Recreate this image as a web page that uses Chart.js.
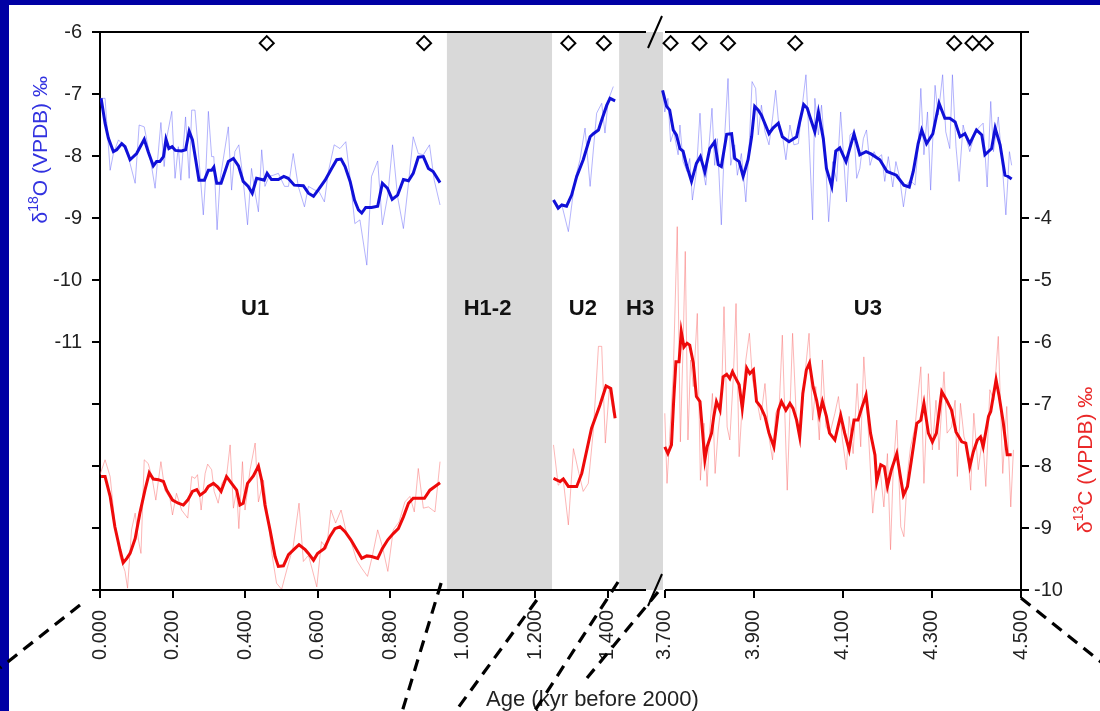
<!DOCTYPE html>
<html>
<head>
<meta charset="utf-8">
<title>Isotope record</title>
<script src="https://cdn.jsdelivr.net/npm/chart.js@4.4.1/dist/chart.umd.min.js"></script>
<style>
html, body { margin: 0; padding: 0; background: #fff; }
#wrap { width: 1100px; height: 711px; }
</style>
</head>
<body>
<div id="wrap"><canvas id="chart" width="1100" height="711"></canvas></div>
<script>

// ---- data (age in kyr before 2000, isotope values in permil VPDB) ----

const ageTicksLeft = [0, 0.2, 0.4, 0.6, 0.8, 1.0, 1.2, 1.4];
const ageTicksRight = [3.7, 3.9, 4.1, 4.3, 4.5];
const o18Ticks = [-15, -14, -13, -12, -11, -10, -9, -8, -7, -6];
const c13Ticks = [-10, -9, -8, -7, -6, -5, -4, -3, -2, -1];

// dated samples (diamonds along the top)
const datesLeft = [0.460, 0.894, 1.292, 1.390];
const datesRight = [3.713, 3.778, 3.842, 3.993, 4.350, 4.391, 4.421];

// hiatus bands and unit labels
const hiatus = [
  { from: 0.957, to: 1.247 },
  { from: 1.432, to: 3.696 }
];
const units = ['U1', 'H1-2', 'U2', 'H3', 'U3'];
const unitAges = [0.428, 1.069, 1.332, 1.490, 4.156];

// δ18O raw and running mean
const o18RawU1 = [[0.000,-7.07],[0.014,-7.07],[0.028,-8.23],[0.037,-7.96],[0.051,-7.74],[0.064,-7.82],[0.078,-8.01],[0.097,-8.44],[0.108,-7.50],[0.122,-7.53],[0.138,-8.01],[0.152,-8.52],[0.168,-7.46],[0.177,-8.17],[0.184,-7.71],[0.198,-7.28],[0.207,-8.36],[0.216,-7.85],[0.223,-8.39],[0.236,-7.37],[0.246,-8.36],[0.253,-7.26],[0.262,-7.26],[0.271,-7.90],[0.285,-8.95],[0.291,-8.39],[0.299,-7.28],[0.308,-8.01],[0.314,-8.01],[0.323,-9.19],[0.331,-8.39],[0.354,-7.53],[0.363,-8.55],[0.372,-7.93],[0.383,-7.82],[0.395,-8.39],[0.407,-9.11],[0.418,-8.20],[0.428,-8.60],[0.437,-8.90],[0.446,-7.90],[0.455,-8.49],[0.466,-8.33],[0.478,-8.31],[0.492,-8.28],[0.509,-8.49],[0.520,-8.49],[0.533,-7.96],[0.547,-8.49],[0.564,-8.82],[0.575,-8.49],[0.593,-8.55],[0.604,-8.57],[0.619,-8.74],[0.630,-8.25],[0.646,-7.82],[0.662,-7.88],[0.678,-7.77],[0.690,-8.36],[0.703,-9.09],[0.717,-9.03],[0.736,-9.76],[0.749,-8.33],[0.766,-8.08],[0.779,-9.11],[0.794,-8.63],[0.807,-7.82],[0.821,-8.66],[0.837,-9.17],[0.851,-8.44],[0.864,-7.69],[0.878,-7.96],[0.892,-7.98],[0.909,-7.82],[0.922,-8.39],[0.938,-8.79]];
const o18MeanU1 = [[0.003,-7.07],[0.014,-7.47],[0.023,-7.71],[0.037,-7.93],[0.046,-7.90],[0.060,-7.80],[0.069,-7.85],[0.083,-8.06],[0.101,-7.96],[0.122,-7.73],[0.133,-7.93],[0.147,-8.16],[0.156,-8.09],[0.165,-8.09],[0.175,-8.01],[0.182,-7.73],[0.190,-7.88],[0.199,-7.85],[0.208,-7.91],[0.225,-7.92],[0.236,-7.90],[0.246,-7.60],[0.255,-7.74],[0.264,-8.06],[0.273,-8.39],[0.288,-8.39],[0.299,-8.23],[0.308,-8.23],[0.314,-8.18],[0.322,-8.44],[0.334,-8.44],[0.354,-8.09],[0.368,-8.04],[0.382,-8.16],[0.395,-8.41],[0.409,-8.49],[0.420,-8.60],[0.432,-8.36],[0.446,-8.38],[0.453,-8.39],[0.461,-8.28],[0.473,-8.38],[0.492,-8.38],[0.507,-8.33],[0.519,-8.36],[0.536,-8.47],[0.561,-8.48],[0.575,-8.60],[0.589,-8.65],[0.603,-8.54],[0.621,-8.39],[0.639,-8.20],[0.653,-8.06],[0.665,-8.05],[0.676,-8.17],[0.690,-8.41],[0.702,-8.71],[0.713,-8.87],[0.722,-8.92],[0.733,-8.83],[0.749,-8.83],[0.766,-8.81],[0.779,-8.44],[0.793,-8.52],[0.806,-8.70],[0.821,-8.63],[0.837,-8.38],[0.851,-8.40],[0.864,-8.28],[0.878,-8.02],[0.892,-8.01],[0.906,-8.20],[0.919,-8.25],[0.938,-8.43]];
const o18RawU2 = [[1.251,-8.71],[1.260,-8.84],[1.274,-8.79],[1.292,-9.22],[1.310,-8.39],[1.324,-8.06],[1.338,-7.55],[1.352,-8.49],[1.370,-7.31],[1.384,-7.15],[1.393,-7.63],[1.402,-7.10],[1.416,-6.88]];
const o18MeanU2 = [[1.251,-8.71],[1.264,-8.84],[1.274,-8.79],[1.287,-8.81],[1.301,-8.63],[1.315,-8.33],[1.333,-8.06],[1.352,-7.69],[1.361,-7.64],[1.375,-7.58],[1.384,-7.42],[1.398,-7.18],[1.407,-7.07],[1.421,-7.11]];
const o18RawU3 = [[3.695,-6.94],[3.700,-7.29],[3.707,-7.07],[3.713,-7.77],[3.720,-7.61],[3.730,-7.98],[3.734,-7.50],[3.741,-8.09],[3.750,-8.25],[3.756,-8.04],[3.762,-8.71],[3.771,-8.25],[3.779,-7.31],[3.786,-8.25],[3.792,-8.47],[3.800,-7.77],[3.806,-7.23],[3.812,-8.15],[3.818,-7.72],[3.827,-9.11],[3.835,-7.61],[3.842,-6.75],[3.848,-8.15],[3.857,-7.82],[3.863,-8.31],[3.872,-7.96],[3.882,-8.74],[3.890,-7.77],[3.896,-6.80],[3.904,-6.91],[3.910,-7.66],[3.917,-7.18],[3.925,-7.61],[3.934,-7.82],[3.942,-7.39],[3.949,-6.94],[3.957,-7.58],[3.964,-7.66],[3.972,-8.06],[3.981,-7.50],[3.990,-7.82],[4.000,-7.80],[4.007,-7.29],[4.017,-6.69],[4.024,-7.72],[4.032,-9.03],[4.037,-7.07],[4.045,-7.66],[4.052,-7.18],[4.060,-7.93],[4.068,-9.06],[4.077,-8.09],[4.086,-8.41],[4.095,-7.29],[4.102,-8.06],[4.108,-8.74],[4.116,-7.66],[4.125,-7.61],[4.131,-8.36],[4.138,-8.20],[4.146,-7.72],[4.153,-7.58],[4.161,-8.15],[4.170,-7.93],[4.177,-8.04],[4.187,-7.98],[4.194,-8.41],[4.202,-8.01],[4.212,-8.50],[4.219,-8.09],[4.227,-8.33],[4.236,-8.82],[4.243,-8.47],[4.251,-8.39],[4.262,-8.47],[4.269,-7.85],[4.275,-6.91],[4.282,-7.98],[4.290,-7.29],[4.297,-8.55],[4.307,-6.86],[4.314,-7.34],[4.324,-6.69],[4.331,-7.61],[4.340,-7.88],[4.346,-6.69],[4.354,-7.85],[4.361,-8.41],[4.370,-7.50],[4.378,-7.74],[4.385,-7.93],[4.394,-7.69],[4.404,-7.55],[4.415,-7.47],[4.424,-8.50],[4.432,-7.12],[4.438,-7.93],[4.449,-7.37],[4.457,-8.06],[4.466,-8.95],[4.474,-7.93],[4.479,-8.15]];
const o18MeanU3 = [[3.695,-6.94],[3.704,-7.20],[3.711,-7.26],[3.719,-7.58],[3.726,-7.66],[3.734,-7.88],[3.741,-7.92],[3.749,-8.15],[3.760,-8.41],[3.771,-8.12],[3.780,-8.01],[3.790,-8.26],[3.801,-7.88],[3.812,-7.77],[3.820,-8.14],[3.827,-8.17],[3.839,-7.65],[3.850,-7.64],[3.857,-8.04],[3.867,-8.09],[3.876,-8.33],[3.887,-8.06],[3.895,-7.69],[3.902,-7.20],[3.910,-7.26],[3.917,-7.34],[3.934,-7.64],[3.943,-7.55],[3.955,-7.47],[3.964,-7.69],[3.979,-7.77],[3.996,-7.69],[4.003,-7.45],[4.012,-7.17],[4.020,-7.23],[4.027,-7.39],[4.037,-7.61],[4.045,-7.29],[4.056,-7.72],[4.063,-8.20],[4.075,-8.49],[4.084,-7.92],[4.093,-7.87],[4.107,-8.09],[4.125,-7.64],[4.138,-7.98],[4.152,-7.93],[4.164,-7.97],[4.183,-8.06],[4.199,-8.25],[4.220,-8.31],[4.237,-8.47],[4.249,-8.50],[4.258,-8.25],[4.269,-7.80],[4.277,-7.58],[4.288,-7.80],[4.302,-7.64],[4.316,-7.15],[4.329,-7.39],[4.340,-7.39],[4.352,-7.45],[4.363,-7.69],[4.374,-7.64],[4.385,-7.80],[4.400,-7.58],[4.412,-7.66],[4.419,-7.98],[4.434,-7.88],[4.442,-7.55],[4.453,-7.82],[4.464,-8.31],[4.471,-8.33],[4.479,-8.37]];

// δ13C raw and running mean
const c13RawU1 = [[0.000,-8.14],[0.014,-7.90],[0.028,-8.17],[0.041,-8.92],[0.055,-9.46],[0.069,-9.70],[0.076,-9.97],[0.087,-9.03],[0.097,-8.76],[0.106,-9.19],[0.113,-9.41],[0.122,-7.90],[0.133,-7.96],[0.143,-8.17],[0.154,-8.55],[0.168,-7.93],[0.179,-8.39],[0.193,-8.52],[0.200,-8.79],[0.211,-8.44],[0.225,-8.71],[0.242,-8.84],[0.253,-8.17],[0.262,-8.20],[0.269,-8.14],[0.279,-8.71],[0.290,-8.12],[0.297,-7.97],[0.308,-8.06],[0.315,-8.41],[0.326,-8.60],[0.336,-8.28],[0.349,-8.17],[0.359,-7.66],[0.368,-8.68],[0.377,-8.39],[0.383,-9.01],[0.393,-7.93],[0.400,-8.71],[0.414,-8.06],[0.428,-7.63],[0.437,-8.58],[0.451,-8.23],[0.463,-8.82],[0.474,-9.41],[0.487,-9.89],[0.501,-9.99],[0.515,-9.68],[0.533,-9.30],[0.549,-8.60],[0.561,-9.54],[0.575,-9.44],[0.586,-9.68],[0.598,-9.95],[0.611,-9.22],[0.625,-9.33],[0.637,-8.71],[0.650,-8.92],[0.665,-8.71],[0.678,-9.03],[0.694,-9.25],[0.708,-9.52],[0.722,-9.65],[0.738,-9.78],[0.751,-9.46],[0.766,-9.03],[0.779,-9.30],[0.794,-9.70],[0.809,-9.03],[0.825,-8.90],[0.841,-8.58],[0.855,-8.49],[0.867,-8.74],[0.878,-8.04],[0.892,-8.68],[0.906,-8.66],[0.924,-8.74],[0.938,-7.93]];
const c13MeanU1 = [[0.003,-8.17],[0.014,-8.17],[0.028,-8.49],[0.041,-8.98],[0.055,-9.35],[0.064,-9.56],[0.074,-9.49],[0.083,-9.41],[0.097,-9.17],[0.110,-8.76],[0.124,-8.39],[0.136,-8.11],[0.147,-8.21],[0.161,-8.22],[0.175,-8.25],[0.184,-8.39],[0.200,-8.55],[0.216,-8.60],[0.230,-8.63],[0.242,-8.55],[0.255,-8.41],[0.267,-8.38],[0.276,-8.47],[0.290,-8.41],[0.299,-8.33],[0.313,-8.28],[0.325,-8.34],[0.334,-8.41],[0.349,-8.17],[0.363,-8.28],[0.377,-8.39],[0.386,-8.63],[0.395,-8.60],[0.407,-8.28],[0.423,-8.16],[0.437,-8.00],[0.446,-8.23],[0.455,-8.63],[0.469,-9.03],[0.483,-9.46],[0.492,-9.62],[0.506,-9.61],[0.520,-9.43],[0.538,-9.33],[0.549,-9.27],[0.566,-9.35],[0.575,-9.41],[0.589,-9.52],[0.600,-9.41],[0.619,-9.33],[0.634,-9.14],[0.648,-9.01],[0.662,-8.98],[0.676,-9.06],[0.692,-9.19],[0.708,-9.35],[0.722,-9.49],[0.736,-9.45],[0.749,-9.46],[0.766,-9.49],[0.779,-9.33],[0.794,-9.19],[0.809,-9.09],[0.823,-9.01],[0.837,-8.82],[0.851,-8.60],[0.864,-8.52],[0.878,-8.52],[0.895,-8.52],[0.910,-8.39],[0.924,-8.33],[0.938,-8.27]];
const c13RawU2 = [[1.251,-7.66],[1.264,-8.31],[1.278,-8.23],[1.292,-8.95],[1.306,-7.72],[1.320,-8.09],[1.333,-8.41],[1.347,-8.28],[1.361,-7.42],[1.375,-6.07],[1.384,-6.07],[1.394,-7.63],[1.405,-6.75],[1.416,-7.15]];
const c13MeanU2 = [[1.251,-8.20],[1.269,-8.25],[1.278,-8.21],[1.292,-8.33],[1.315,-8.33],[1.329,-8.12],[1.356,-7.39],[1.379,-7.02],[1.396,-6.71],[1.409,-6.75],[1.421,-7.23]];
const c13RawU3 = [[3.700,-7.15],[3.705,-8.28],[3.711,-7.53],[3.719,-6.51],[3.728,-4.14],[3.735,-7.61],[3.741,-6.08],[3.746,-4.54],[3.752,-7.58],[3.758,-6.29],[3.764,-6.72],[3.773,-5.54],[3.780,-8.23],[3.788,-7.31],[3.795,-8.33],[3.801,-7.42],[3.807,-6.83],[3.813,-8.12],[3.820,-7.42],[3.827,-6.99],[3.833,-5.43],[3.840,-7.37],[3.846,-7.58],[3.854,-6.56],[3.860,-5.38],[3.867,-7.85],[3.875,-6.88],[3.882,-6.29],[3.890,-5.86],[3.897,-6.61],[3.904,-6.83],[3.915,-7.26],[3.925,-6.67],[3.934,-7.53],[3.942,-7.90],[3.949,-7.15],[3.957,-7.04],[3.964,-5.89],[3.975,-8.39],[3.987,-5.86],[3.996,-7.31],[4.005,-7.37],[4.015,-6.51],[4.024,-5.86],[4.032,-7.26],[4.039,-6.72],[4.047,-7.58],[4.054,-6.29],[4.062,-7.37],[4.071,-7.47],[4.082,-7.15],[4.090,-6.88],[4.099,-7.58],[4.108,-8.06],[4.114,-7.20],[4.123,-7.80],[4.132,-6.67],[4.140,-7.69],[4.147,-6.24],[4.157,-7.42],[4.167,-8.76],[4.174,-8.23],[4.183,-8.01],[4.192,-8.66],[4.200,-7.80],[4.207,-9.35],[4.213,-8.06],[4.221,-7.26],[4.230,-8.98],[4.237,-9.14],[4.245,-8.12],[4.252,-7.69],[4.262,-7.37],[4.275,-6.40],[4.282,-8.28],[4.292,-6.51],[4.301,-7.74],[4.309,-6.94],[4.316,-7.74],[4.327,-6.48],[4.334,-7.47],[4.344,-7.37],[4.352,-6.94],[4.357,-8.17],[4.364,-6.99],[4.372,-7.53],[4.379,-7.69],[4.387,-8.39],[4.394,-7.15],[4.404,-8.06],[4.414,-7.53],[4.421,-8.33],[4.430,-6.77],[4.439,-6.94],[4.449,-5.91],[4.459,-8.12],[4.468,-7.04],[4.477,-8.66],[4.483,-7.74]];
const c13MeanU3 = [[3.700,-7.69],[3.707,-7.80],[3.715,-7.66],[3.720,-6.94],[3.725,-6.32],[3.732,-6.32],[3.737,-5.83],[3.743,-6.08],[3.750,-6.02],[3.756,-6.05],[3.764,-6.34],[3.771,-6.88],[3.779,-6.96],[3.785,-7.47],[3.790,-7.90],[3.795,-7.69],[3.805,-7.47],[3.810,-7.20],[3.816,-6.96],[3.824,-7.10],[3.831,-6.56],[3.839,-6.52],[3.846,-6.59],[3.852,-6.48],[3.861,-6.61],[3.867,-6.69],[3.874,-7.07],[3.884,-6.42],[3.891,-6.51],[3.899,-6.45],[3.906,-6.96],[3.915,-7.04],[3.925,-7.20],[3.934,-7.47],[3.945,-7.69],[3.955,-7.10],[3.962,-6.96],[3.972,-7.10],[3.981,-6.99],[3.988,-7.07],[3.996,-7.26],[4.003,-7.53],[4.010,-6.83],[4.018,-6.45],[4.025,-6.34],[4.033,-6.72],[4.041,-6.94],[4.047,-7.18],[4.054,-6.96],[4.063,-7.20],[4.070,-7.47],[4.082,-7.58],[4.095,-7.18],[4.104,-7.47],[4.114,-7.74],[4.125,-7.26],[4.134,-7.26],[4.142,-7.07],[4.152,-6.86],[4.162,-7.47],[4.172,-7.82],[4.176,-8.25],[4.185,-7.98],[4.193,-8.01],[4.200,-8.33],[4.209,-8.06],[4.221,-7.80],[4.228,-8.12],[4.236,-8.47],[4.245,-8.33],[4.254,-7.90],[4.266,-7.31],[4.275,-7.26],[4.282,-6.99],[4.292,-7.47],[4.301,-7.61],[4.310,-7.47],[4.322,-6.80],[4.333,-6.94],[4.344,-7.10],[4.354,-7.45],[4.367,-7.61],[4.376,-7.63],[4.385,-8.01],[4.393,-7.77],[4.402,-7.58],[4.409,-7.53],[4.415,-7.69],[4.427,-7.20],[4.432,-7.12],[4.444,-6.61],[4.451,-6.88],[4.460,-7.29],[4.469,-7.82],[4.479,-7.82]];

// ---- style ----

const FONT = '"Liberation Sans", Arial, Helvetica, sans-serif';
const BLUE = '#1010d8';
const BLUE_THIN = 'rgba(105,105,250,0.5)';
const RED = '#ee0a0a';
const RED_THIN = 'rgba(250,110,110,0.5)';
const DATE_ROW = -6.18;      // height of the date diamonds on the δ18O axis
const UNIT_ROW = -10.47;     // height of the unit labels on the δ18O axis

function line(data, xAxisID, yAxisID, color, width, order) {
  return {
    data: data, xAxisID: xAxisID, yAxisID: yAxisID,
    borderColor: color, borderWidth: width,
    pointRadius: 0, fill: false, tension: 0, order: order
  };
}

function diamonds(ages, xAxisID) {
  return {
    data: ages.map(a => [a, DATE_ROW]),
    xAxisID: xAxisID, yAxisID: 'yO',
    showLine: false, pointStyle: 'rectRot', pointRadius: 7,
    pointBorderWidth: 2, pointBorderColor: '#000', pointBackgroundColor: '#fff',
    order: 0
  };
}

function ageToPixel(chart, age) {
  const s = age <= chart.scales.x1.max ? chart.scales.x1 : chart.scales.x2;
  return s.getPixelForValue(age);
}

function drawRotated(ctx, cx, cy, parts, color) {
  ctx.save();
  ctx.translate(cx, cy);
  ctx.rotate(-Math.PI / 2);
  ctx.fillStyle = color;
  ctx.textBaseline = 'middle';
  ctx.textAlign = 'left';
  let total = 0;
  parts.forEach(p => {
    ctx.font = (p.sup ? '14px ' : '21px ') + FONT;
    p.w = ctx.measureText(p.text).width;
    total += p.w;
  });
  let x = -total / 2;
  parts.forEach(p => {
    ctx.font = (p.sup ? '14px ' : '21px ') + FONT;
    ctx.fillText(p.text, x, p.sup ? -7 : 0);
    x += p.w;
  });
  ctx.restore();
}

/* frame, bands, labels and the dashed zoom connectors */
const decor = {
  id: 'decor',
  beforeDraw(chart) {
    const ctx = chart.ctx;
    ctx.save();
    ctx.fillStyle = '#fff';
    ctx.fillRect(0, 0, chart.width, chart.height);
    ctx.fillStyle = '#0000a4';
    ctx.fillRect(0, 0, chart.width, 5);
    ctx.fillRect(0, 0, 9, chart.height);
    ctx.restore();
  },
  beforeDatasetsDraw(chart) {
    const ctx = chart.ctx, a = chart.chartArea;
    ctx.save();
    ctx.fillStyle = '#d9d9d9';
    hiatus.forEach(b => {
      const x0 = ageToPixel(chart, b.from), x1 = ageToPixel(chart, b.to);
      ctx.fillRect(x0, a.top, x1 - x0, a.bottom - a.top);
    });
    ctx.restore();
  },
  afterDatasetsDraw(chart) {
    const ctx = chart.ctx, a = chart.chartArea, sc = chart.scales;
    const brk = sc.x1.right;

    // top and bottom axis lines with the break
    ctx.save();
    ctx.strokeStyle = '#000';
    ctx.lineWidth = 2;
    [a.top, a.bottom].forEach(y => {
      ctx.beginPath();
      ctx.moveTo(a.left, y); ctx.lineTo(brk - 9, y);
      ctx.moveTo(brk + 10, y); ctx.lineTo(a.right, y);
      ctx.moveTo(brk - 7, y + 16); ctx.lineTo(brk + 7, y - 16);
      ctx.stroke();
    });
    ctx.restore();

    // unit labels
    ctx.save();
    ctx.font = 'bold 22px ' + FONT;
    ctx.fillStyle = '#111';
    ctx.textAlign = 'center';
    ctx.textBaseline = 'middle';
    const yU = sc.yO.getPixelForValue(UNIT_ROW);
    units.forEach((u, i) => ctx.fillText(u, ageToPixel(chart, unitAges[i]), yU));
    ctx.restore();

    // axis titles
    drawRotated(ctx, sc.yO.left + 41, sc.yO.getPixelForValue(-7.9),
      [{ text: 'δ' }, { text: '18', sup: true }, { text: 'O (VPDB) ‰' }], '#3232e0');
    drawRotated(ctx, sc.yC.right - 14, sc.yC.getPixelForValue(-7.9),
      [{ text: 'δ' }, { text: '13', sup: true }, { text: 'C (VPDB) ‰' }], '#ea2828');

    ctx.save();
    ctx.font = '22px ' + FONT;
    ctx.fillStyle = '#222';
    ctx.textAlign = 'center';
    ctx.textBaseline = 'middle';
    ctx.fillText('Age (kyr before 2000)', (a.left + a.right) / 2 + 32, a.bottom + 110);
    ctx.restore();

    // dashed connectors (offsets from the axis point)
    const links = [
      { x: sc.x1.getPixelForValue(0), from: [-20, 15], to: [-100, 78] },
      { x: sc.x1.getPixelForValue(0.941), from: [0, -7], to: [-40, 125] },
      { x: sc.x1.getPixelForValue(1.205), from: [0, 10], to: [-84, 125] },
      { x: sc.x1.getPixelForValue(1.429), from: [0, -8], to: [-86, 125] },
      { x: brk, from: [3, 2], to: [-68, 88] },
      { x: sc.x2.getPixelForValue(4.5), from: [0, 8], to: [80, 72] }
    ];
    ctx.save();
    ctx.strokeStyle = '#000';
    ctx.lineWidth = 3.2;
    ctx.setLineDash([12, 8]);
    links.forEach(l => {
      ctx.beginPath();
      ctx.moveTo(l.x + l.from[0], a.bottom + l.from[1]);
      ctx.lineTo(l.x + l.to[0], a.bottom + l.to[1]);
      ctx.stroke();
    });
    ctx.restore();
  }
};

const tickFont = { family: FONT, size: 20 };

function ageAxis(min, max, weight, ticks) {
  return {
    type: 'linear', position: 'bottom', stack: 'age', stackWeight: weight,
    min: min, max: max, offset: false,
    afterBuildTicks: s => { s.ticks = ticks.map(v => ({ value: v })); },
    afterFit: s => { s.height = 121; },
    border: { display: false },
    grid: { drawOnChartArea: false, drawTicks: true, tickLength: 8, color: '#000', lineWidth: 2 },
    ticks: {
      font: tickFont, color: '#222', padding: 12, autoSkip: false,
      minRotation: 90, maxRotation: 90,
      callback: v => Number(v).toFixed(3)
    }
  };
}

new Chart(document.getElementById('chart'), {
  type: 'line',
  data: {
    datasets: [
      line(o18RawU1, 'x1', 'yO', BLUE_THIN, 1, 3),
      line(o18RawU2, 'x1', 'yO', BLUE_THIN, 1, 3),
      line(o18RawU3, 'x2', 'yO', BLUE_THIN, 1, 3),
      line(c13RawU1, 'x1', 'yC', RED_THIN, 1, 3),
      line(c13RawU2, 'x1', 'yC', RED_THIN, 1, 3),
      line(c13RawU3, 'x2', 'yC', RED_THIN, 1, 3),
      line(o18MeanU1, 'x1', 'yO', BLUE, 3, 1),
      line(o18MeanU2, 'x1', 'yO', BLUE, 3, 1),
      line(o18MeanU3, 'x2', 'yO', BLUE, 3, 1),
      line(c13MeanU1, 'x1', 'yC', RED, 3, 1),
      line(c13MeanU2, 'x1', 'yC', RED, 3, 1),
      line(c13MeanU3, 'x2', 'yC', RED, 3, 1),
      diamonds(datesLeft, 'x1'),
      diamonds(datesRight, 'x2')
    ]
  },
  options: {
    responsive: false,
    animation: false,
    layout: { padding: { top: 32, left: 0, right: 0, bottom: 0 } },
    plugins: { legend: { display: false }, tooltip: { enabled: false } },
    scales: {
      x1: ageAxis(0, 1.531, 555, ageTicksLeft),
      x2: ageAxis(3.678, 4.5, 366, ageTicksRight),
      yO: {
        type: 'linear', position: 'left', min: -15, max: -6,
        afterBuildTicks: s => { s.ticks = o18Ticks.map(v => ({ value: v })); },
        afterFit: s => { s.width = 100; },
        border: { display: true, color: '#000', width: 2 },
        grid: { drawOnChartArea: false, tickLength: 8, color: '#000', lineWidth: 2 },
        ticks: { font: tickFont, color: '#222', padding: 10, callback: v => (v >= -11 ? String(v) : '') }
      },
      yC: {
        type: 'linear', position: 'right', min: -10, max: -1,
        afterBuildTicks: s => { s.ticks = c13Ticks.map(v => ({ value: v })); },
        afterFit: s => { s.width = 79; },
        border: { display: true, color: '#000', width: 2 },
        grid: { drawOnChartArea: false, tickLength: 8, color: '#000', lineWidth: 2 },
        ticks: { font: tickFont, color: '#222', padding: 5, callback: v => (v <= -4 ? String(v) : '') }
      }
    }
  },
  plugins: [decor]
});
</script>
</body>
</html>
